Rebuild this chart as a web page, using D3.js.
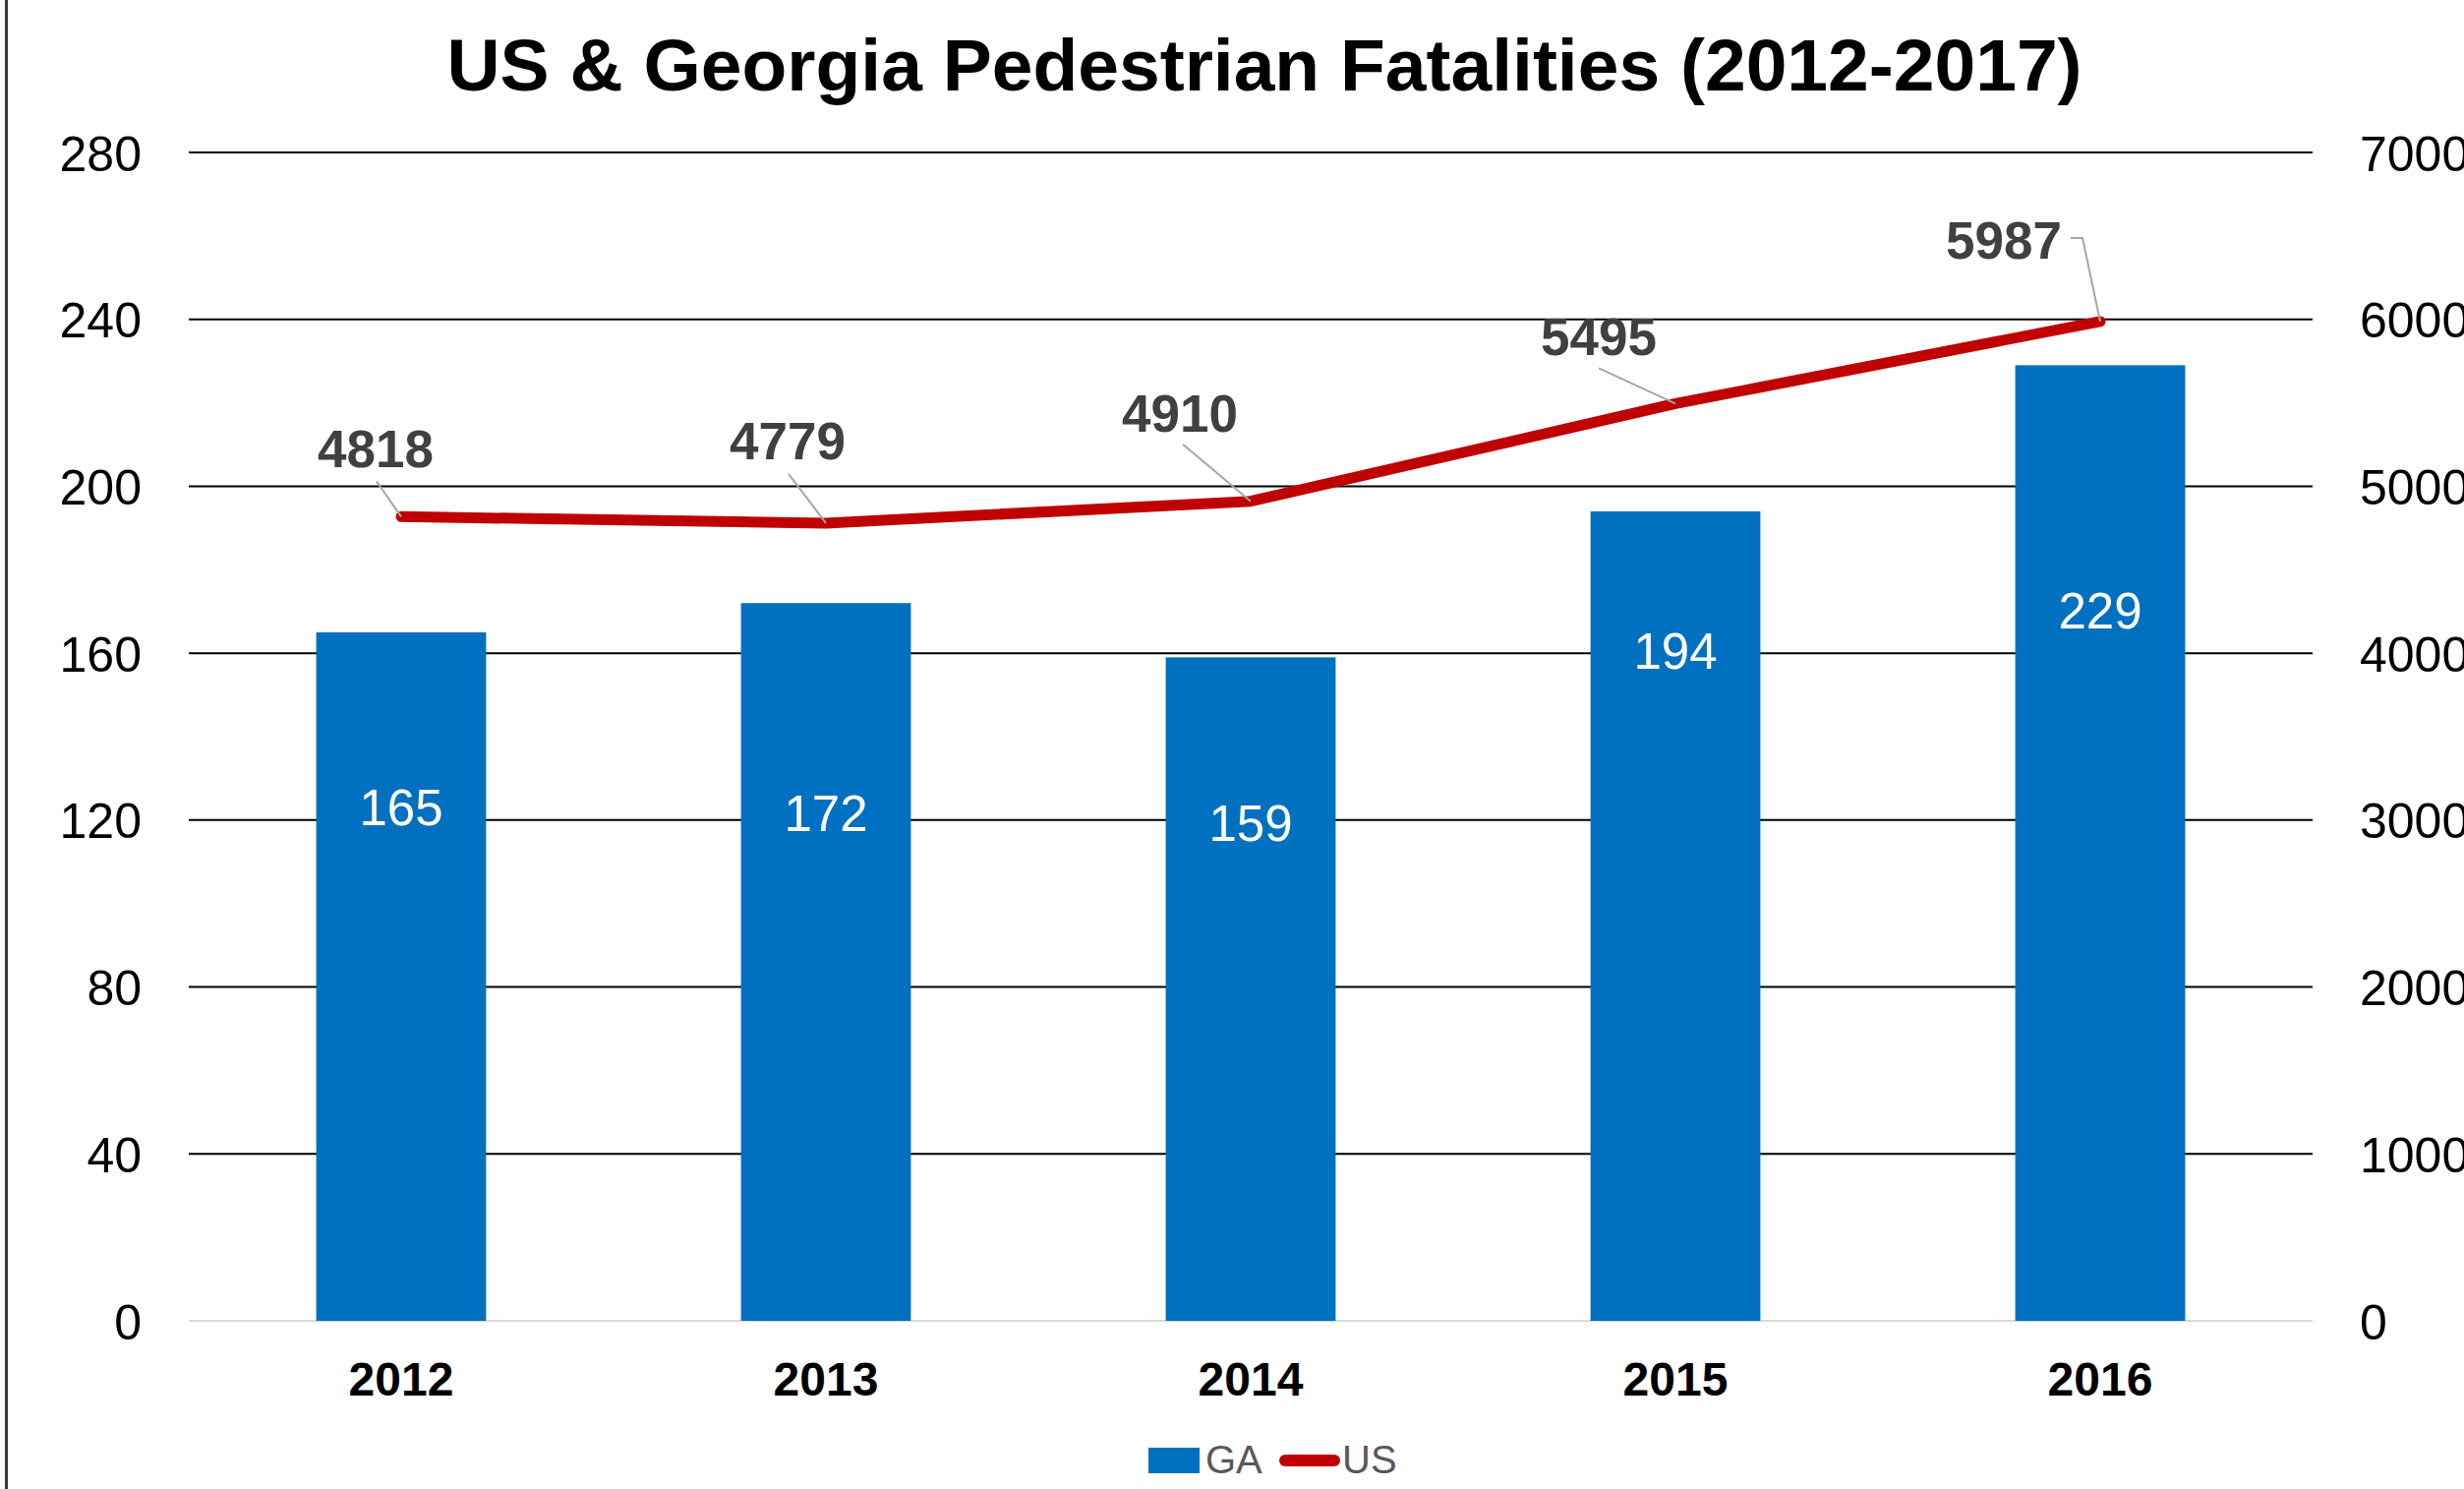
<!DOCTYPE html>
<html>
<head>
<meta charset="utf-8">
<script src="https://cdn.jsdelivr.net/npm/d3@7"></script>
<style>
  body { margin: 0; background: #fff; }
  svg { display: block; font-family: "Liberation Sans", Arial, sans-serif; }
</style>
</head>
<body>
<svg id="chart" width="2506" height="1514"></svg>
<script>
// data
const years = ['2012', '2013', '2014', '2015', '2016'];
const gaValues = [165, 172, 159, 194, 229];
const usValues = [4818, 4779, 4910, 5495, 5987];
const leftTicks = [0, 40, 80, 120, 160, 200, 240, 280];
const rightTicks = [0, 1000, 2000, 3000, 4000, 5000, 6000, 7000];

// label placement (hand nudged in the original, kept apart from data)
const gaLabelDrop = [178, 213, 168, 142, 249];
const usLabelOffset = [[-26, -69], [-39, -84], [-72, -90], [-78, -69], [-98, -83]];
const usLeader = [
    [[-25, -36], [0, 0]],
    [[-38, -50], [0, 0]],
    [[-69, -58], [0, 0]],
    [[-78, -36], [0, 0]],
    [[-30, -85], [-18, -85], [0, 0]]
];

(function() {

var svg = d3.select('#chart');

var margin = {top: 155, right: 154, bottom: 171, left: 192},
    width = +svg.attr('width') - margin.left - margin.right,
    height = +svg.attr('height') - margin.top - margin.bottom;

var x = d3.scaleBand()
          .domain(years)
          .range([0, width])
          .paddingInner(0.6)
          .paddingOuter(0.3);

var yLeft = d3.scaleLinear().domain([0, 280]).range([height, 0]);
var yRight = d3.scaleLinear().domain([0, 7000]).range([height, 0]);

// left border of the chart area
svg.append('line')
    .attr('x1', 6.5).attr('x2', 6.5)
    .attr('y1', 0).attr('y2', +svg.attr('height'))
    .attr('stroke', '#3a3a3a')
    .attr('stroke-width', 3);

// title
svg.append('text')
    .attr('x', 1286)
    .attr('y', 92)
    .attr('text-anchor', 'middle')
    .attr('font-size', 75)
    .attr('font-weight', 'bold')
    .attr('fill', '#000')
    .text('US & Georgia Pedestrian Fatalities (2012-2017)');

var g = svg.append('g')
    .attr('transform', 'translate(' + margin.left + ',' + margin.top + ')');

// gridlines
g.selectAll('.grid')
    .data(leftTicks)
  .enter().append('line')
    .attr('class', 'grid')
    .attr('x1', 0).attr('x2', width)
    .attr('y1', function(d) { return yLeft(d); })
    .attr('y2', function(d) { return yLeft(d); })
    .attr('stroke', function(d) { return d === 0 ? '#d9d9d9' : '#000'; })
    .attr('stroke-width', 2);

// left axis
var leftAxis = g.append('g')
    .call(d3.axisLeft(yLeft).tickValues(leftTicks).tickFormat(d3.format('d'))
          .tickSize(0).tickPadding(48));
leftAxis.select('.domain').remove();
leftAxis.selectAll('text')
    .attr('font-size', 50)
    .attr('font-family', '"Liberation Sans", Arial, sans-serif')
    .attr('fill', '#000')
    .attr('dy', '0.36em');

// right axis (cut off at the page edge, as in the original)
var rightAxis = g.append('g')
    .attr('transform', 'translate(' + width + ',0)')
    .call(d3.axisRight(yRight).tickValues(rightTicks).tickFormat(d3.format('d'))
          .tickSize(0).tickPadding(48));
rightAxis.select('.domain').remove();
rightAxis.selectAll('text')
    .attr('font-size', 50)
    .attr('font-family', '"Liberation Sans", Arial, sans-serif')
    .attr('fill', '#000')
    .attr('dy', '0.36em');

// bottom axis
var bottomAxis = g.append('g')
    .attr('transform', 'translate(0,' + height + ')')
    .call(d3.axisBottom(x).tickSize(0).tickPadding(42));
bottomAxis.select('.domain').remove();
bottomAxis.selectAll('text')
    .attr('font-size', 48)
    .attr('font-weight', 'bold')
    .attr('font-family', '"Liberation Sans", Arial, sans-serif')
    .attr('fill', '#000');

// bars
g.selectAll('.bar')
    .data(gaValues)
  .enter().append('rect')
    .attr('class', 'bar')
    .attr('x', function(d, i) { return x(years[i]); })
    .attr('width', x.bandwidth())
    .attr('y', function(d) { return yLeft(d); })
    .attr('height', function(d) { return height - yLeft(d); })
    .attr('fill', '#0070C0');

g.selectAll('.bar-label')
    .data(gaValues)
  .enter().append('text')
    .attr('class', 'bar-label')
    .attr('x', function(d, i) { return x(years[i]) + x.bandwidth() / 2; })
    .attr('y', function(d, i) { return yLeft(d) + gaLabelDrop[i]; })
    .attr('dy', '0.36em')
    .attr('text-anchor', 'middle')
    .attr('font-size', 51)
    .attr('fill', '#fff')
    .text(function(d) { return d; });

// US line
var cx = function(i) { return x(years[i]) + x.bandwidth() / 2; };

var line = d3.line()
    .x(function(d, i) { return cx(i); })
    .y(function(d) { return yRight(d); });

g.append('path')
    .datum(usValues)
    .attr('d', line)
    .attr('fill', 'none')
    .attr('stroke', '#C00000')
    .attr('stroke-width', 11)
    .attr('stroke-linecap', 'round')
    .attr('stroke-linejoin', 'round');

// leader lines
g.selectAll('.leader')
    .data(usValues)
  .enter().append('path')
    .attr('class', 'leader')
    .attr('d', function(d, i) {
        var px = cx(i), py = yRight(d);
        return d3.line()(usLeader[i].map(function(p) { return [px + p[0], py + p[1]]; }));
    })
    .attr('fill', 'none')
    .attr('stroke', '#a6a6a6')
    .attr('stroke-width', 2);

g.selectAll('.us-label')
    .data(usValues)
  .enter().append('text')
    .attr('class', 'us-label')
    .attr('x', function(d, i) { return cx(i) + usLabelOffset[i][0]; })
    .attr('y', function(d, i) { return yRight(d) + usLabelOffset[i][1]; })
    .attr('dy', '0.36em')
    .attr('text-anchor', 'middle')
    .attr('font-size', 53)
    .attr('font-weight', 'bold')
    .attr('fill', '#404040')
    .text(function(d) { return d; });

// legend
var legend = svg.append('g');
legend.append('rect')
    .attr('x', 1168).attr('y', 1472)
    .attr('width', 52).attr('height', 26)
    .attr('fill', '#0070C0');
legend.append('text')
    .attr('x', 1226).attr('y', 1498)
    .attr('font-size', 40)
    .attr('fill', '#595959')
    .text('GA');
legend.append('line')
    .attr('x1', 1307).attr('x2', 1357)
    .attr('y1', 1485).attr('y2', 1485)
    .attr('stroke', '#C00000')
    .attr('stroke-width', 12)
    .attr('stroke-linecap', 'round');
legend.append('text')
    .attr('x', 1365).attr('y', 1498)
    .attr('font-size', 40)
    .attr('fill', '#595959')
    .text('US');

})();
</script>
</body>
</html>
